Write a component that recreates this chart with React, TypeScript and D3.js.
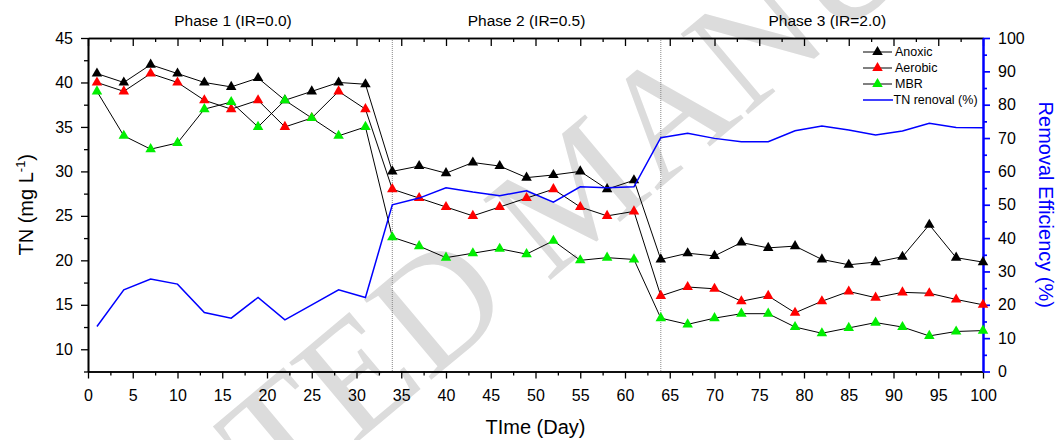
import React, { useRef, useEffect } from 'react';
import * as d3 from 'd3';

// sampling days (every 3 days)
const days = [1, 4, 7, 10, 13, 16, 19, 22, 25, 28, 31, 34, 37, 40, 43, 46, 49, 52, 55, 58, 61,
  64, 67, 70, 73, 76, 79, 82, 85, 88, 91, 94, 97, 100];

// TN (mg/L)
const anoxic = [41, 40, 42, 41, 40, 39.5, 40.5, 38, 39, 40, 39.8,
  30, 30.6, 29.8, 31, 30.6, 29.3, 29.6, 30, 28, 29,
  20.1, 20.8, 20.5, 22, 21.4, 21.6, 20.1, 19.5, 19.8, 20.4, 24, 20.3, 19.8];
const aerobic = [40, 39, 41, 40, 38, 37, 38, 35, 36, 39, 37,
  28, 27, 26, 25, 26, 27, 28, 26, 25, 25.5,
  16, 17, 16.8, 15.4, 16, 14.1, 15.4, 16.5, 15.8, 16.4, 16.3, 15.6, 15];
const mbr = [39, 34, 32.5, 33.2, 37, 37.8, 35, 38, 36, 34, 35,
  22.6, 21.6, 20.3, 20.8, 21.3, 20.7, 22.2, 20, 20.3, 20.1,
  13.5, 12.8, 13.5, 14, 14, 12.5, 11.8, 12.4, 13, 12.5, 11.5, 12, 12.1];
// TN removal efficiency (%)
const removal = [13.5, 24.5, 27.7, 26.2, 17.7, 16, 22.2, 15.5, 20, 24.5, 22.2,
  50, 52, 55.1, 53.8, 52.7, 54.2, 50.8, 55.4, 55.1, 55.4,
  70.1, 71.4, 69.9, 68.9, 68.9, 72.2, 73.6, 72.4, 70.9, 72.1, 74.4, 73.2, 73.1];

const phaseBreaks = [34, 64];
const phaseLabels = ['Phase 1 (IR=0.0)', 'Phase 2 (IR=0.5)', 'Phase 3 (IR=2.0)'];
const phaseLabelDays = [16.2, 49, 82.6];

const xTicks = [0, 5, 10, 15, 20, 25, 30, 35, 40, 45, 50, 55, 60, 65, 70, 75, 80, 85, 90, 95, 100];
const leftTicks = [10, 15, 20, 25, 30, 35, 40, 45];
const rightTicks = [0, 10, 20, 30, 40, 50, 60, 70, 80, 90, 100];

const legendItems = ['Anoxic', 'Aerobic', 'MBR', 'TN renoval (%)'];
const seriesColors = ['#000000', '#ff0000', '#00ee00'];

const FONT = 'Arial, "Liberation Sans", sans-serif';

export default function App() {
  const svgRef = useRef<SVGSVGElement>(null);

  useEffect(() => {
    const svg = d3.select(svgRef.current);
    svg.selectAll('*').remove();

    const m = { left: 88, right: 983, top: 38, bottom: 371.5 };
    const x = d3.scaleLinear().domain([0, 100]).range([m.left, m.right]);
    const yL = d3.scaleLinear().domain([7.5, 45]).range([m.bottom, m.top]);
    const yR = d3.scaleLinear().domain([0, 100]).range([m.bottom, m.top]);

    // watermark
    svg.append('text')
      .attr('transform', 'translate(-117,840) rotate(-40)')
      .attr('font-family', '"Liberation Serif", "DejaVu Serif", serif')
      .attr('font-size', 160)
      .attr('fill', '#dcdcdc')
      .text('ACCEPTED MANUSCRIPT');

    // phase dividers
    svg.selectAll('.divider')
      .data(phaseBreaks)
      .join('line')
      .attr('x1', d => x(d)).attr('x2', d => x(d))
      .attr('y1', m.top).attr('y2', m.bottom)
      .attr('stroke', '#888').attr('stroke-width', 1).attr('stroke-dasharray', '1,1');

    svg.selectAll('.phase')
      .data(phaseLabels)
      .join('text')
      .attr('x', (d, i) => x(phaseLabelDays[i]))
      .attr('y', 26)
      .attr('text-anchor', 'middle')
      .attr('font-family', FONT)
      .attr('font-size', 15.5)
      .text(d => d);

    const styleAxis = (g: any, color: string, width: number) => {
      g.select('.domain').attr('stroke', color).attr('stroke-width', width);
      g.selectAll('.tick line').attr('stroke', color).attr('stroke-width', width - 0.3);
      g.selectAll('text').attr('fill', '#000').attr('font-family', FONT).attr('font-size', 16);
    };

    const minorX = d3.range(2.5, 100, 5);
    const minorL = d3.range(7.5, 45, 5);
    const minorR = d3.range(5, 100, 10);

    // bottom axis
    const gb = svg.append('g').attr('transform', `translate(0,${m.bottom})`);
    gb.call(d3.axisBottom(x).tickValues(xTicks).tickSize(7).tickSizeOuter(0).tickPadding(11));
    styleAxis(gb, '#000', 1.6);
    const gbm = svg.append('g').attr('transform', `translate(0,${m.bottom})`);
    gbm.call(d3.axisBottom(x).tickValues(minorX).tickSize(4).tickSizeOuter(0).tickFormat(() => ''));
    styleAxis(gbm, '#000', 1.6);

    // top axis (inward ticks)
    const gt = svg.append('g').attr('transform', `translate(0,${m.top})`);
    gt.call(d3.axisTop(x).tickValues(xTicks).tickSize(-8).tickSizeOuter(0).tickFormat(() => ''));
    styleAxis(gt, '#000', 1.6);
    const gtm = svg.append('g').attr('transform', `translate(0,${m.top})`);
    gtm.call(d3.axisTop(x).tickValues(minorX).tickSize(-4).tickSizeOuter(0).tickFormat(() => ''));
    styleAxis(gtm, '#000', 1.6);

    // left axis
    const gl = svg.append('g').attr('transform', `translate(${m.left},0)`);
    gl.call(d3.axisLeft(yL).tickValues(leftTicks).tickSize(7).tickSizeOuter(0).tickPadding(8));
    styleAxis(gl, '#000', 1.6);
    const glm = svg.append('g').attr('transform', `translate(${m.left},0)`);
    glm.call(d3.axisLeft(yL).tickValues(minorL).tickSize(4).tickSizeOuter(0).tickFormat(() => ''));
    styleAxis(glm, '#000', 1.6);

    // right axis
    const gr = svg.append('g').attr('transform', `translate(${m.right},0)`);
    gr.call(d3.axisRight(yR).tickValues(rightTicks).tickSize(7).tickSizeOuter(0).tickPadding(8));
    styleAxis(gr, '#0000ff', 2);
    const grm = svg.append('g').attr('transform', `translate(${m.right},0)`);
    grm.call(d3.axisRight(yR).tickValues(minorR).tickSize(4).tickSizeOuter(0).tickFormat(() => ''));
    styleAxis(grm, '#0000ff', 2);

    // axis titles
    const yt = svg.append('text')
      .attr('transform', `translate(33,${(m.top + m.bottom) / 2}) rotate(-90)`)
      .attr('text-anchor', 'middle')
      .attr('font-family', FONT).attr('font-size', 20);
    yt.append('tspan').text('TN (mg L');
    yt.append('tspan').attr('dy', -8).attr('font-size', 13).text('-1');
    yt.append('tspan').attr('dy', 8).text(')');

    svg.append('text')
      .attr('transform', `translate(1039,${(m.top + m.bottom) / 2}) rotate(90)`)
      .attr('text-anchor', 'middle')
      .attr('font-family', FONT).attr('font-size', 20)
      .attr('fill', '#0000ff')
      .text('Removal Efficiency (%)');

    svg.append('text')
      .attr('x', (m.left + m.right) / 2).attr('y', 434)
      .attr('text-anchor', 'middle')
      .attr('font-family', FONT).attr('font-size', 20)
      .text('TIme (Day)');

    // TN series
    const lineL = d3.line<number>().x((d, i) => x(days[i])).y(d => yL(d));
    const tri = d3.symbol().type(d3.symbolTriangle).size(48);
    [anoxic, aerobic, mbr].forEach((series, k) => {
      svg.append('path')
        .attr('d', lineL(series))
        .attr('fill', 'none').attr('stroke', '#000').attr('stroke-width', 1);
      svg.append('g').selectAll('path')
        .data(series)
        .join('path')
        .attr('d', tri)
        .attr('transform', (d, i) => `translate(${x(days[i])},${yL(d)})`)
        .attr('fill', seriesColors[k]);
    });

    // removal efficiency
    const lineR = d3.line<number>().x((d, i) => x(days[i])).y(d => yR(d));
    svg.append('path')
      .attr('d', lineR(removal))
      .attr('fill', 'none').attr('stroke', '#0000ff').attr('stroke-width', 1.5);

    // legend
    const lg = svg.append('g').attr('transform', 'translate(863,52)');
    const rows = lg.selectAll('g').data(legendItems).join('g')
      .attr('transform', (d, i) => `translate(0,${i * 16})`);
    rows.append('line')
      .attr('x1', 0).attr('x2', (d, i) => (i < 3 ? 29 : 30))
      .attr('stroke', (d, i) => (i < 3 ? '#000' : '#0000ff'))
      .attr('stroke-width', (d, i) => (i < 3 ? 1 : 1.5));
    rows.filter((d, i) => i < 3).append('path')
      .attr('d', tri)
      .attr('transform', 'translate(14.5,0)')
      .attr('fill', (d) => seriesColors[legendItems.indexOf(d)]);
    rows.append('text')
      .attr('x', (d, i) => (i < 3 ? 32 : 30.5))
      .attr('dy', '0.35em')
      .attr('font-family', FONT).attr('font-size', 12.5)
      .text(d => d);
  }, []);

  return (
    <svg ref={svgRef} width={1059} height={440}
      style={{ position: 'absolute', left: 0, top: 0, background: '#fff' }} />
  );
}
